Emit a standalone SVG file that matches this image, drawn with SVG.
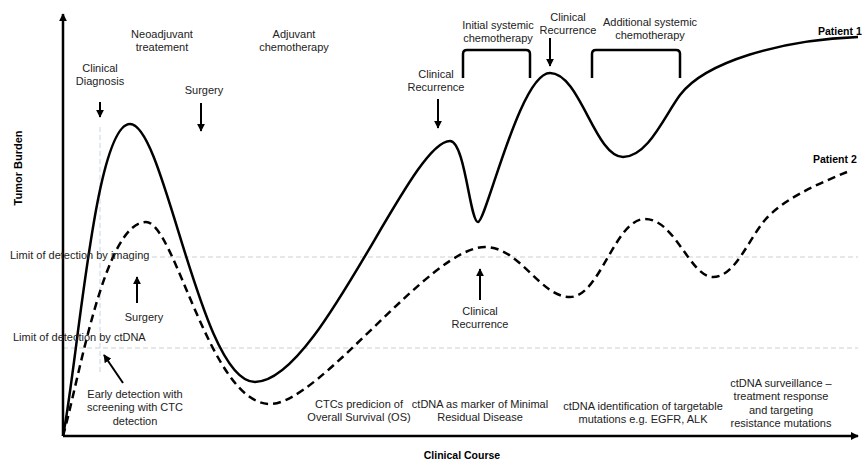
<svg xmlns="http://www.w3.org/2000/svg" width="863" height="462" viewBox="0 0 863 462">
<defs>
<style>
text{font-family:"Liberation Sans",Arial,sans-serif;font-size:11px;fill:#222}
.c{text-anchor:middle}
.b{font-weight:bold;fill:#000}
.axis{stroke:#000;stroke-width:2.5;fill:none}
.arr{stroke:#000;stroke-width:2;fill:none}
.lim{stroke:#cfcfcf;stroke-width:1;stroke-dasharray:5 3;fill:none}
.vl{stroke:#c8d4e8;stroke-width:1;stroke-dasharray:5 3;fill:none}
.p1{stroke:#000;stroke-width:2.5;fill:none}
.p2{stroke:#000;stroke-width:2.5;fill:none;stroke-dasharray:8 5}
.br{stroke:#000;stroke-width:2.5;fill:none}
</style>
<marker id="ah" viewBox="0 0 10 10" refX="9" refY="5" markerWidth="4" markerHeight="4" orient="auto" markerUnits="strokeWidth">
<path d="M0,0 L10,5 L0,10 z" fill="#000"/>
</marker>
<marker id="axh" viewBox="0 0 10 10" refX="9" refY="5" markerWidth="3.2" markerHeight="3.2" orient="auto" markerUnits="strokeWidth">
<path d="M0,0 L10,5 L0,10 z" fill="#000"/>
</marker>
</defs>
<rect width="863" height="462" fill="#fff"/>

<g id="limits">
<line class="lim" x1="152" y1="257" x2="858" y2="257"/>
<line class="lim" x1="63" y1="348" x2="858" y2="348"/>
<line class="vl" x1="100" y1="127" x2="100" y2="372"/>
</g>

<g id="axes">
<line class="axis" x1="63" y1="436" x2="63" y2="14" marker-end="url(#axh)"/>
<line class="axis" x1="63" y1="436" x2="858" y2="436" marker-end="url(#axh)"/>
</g>

<g id="patient1-curve">
<path class="p1" d="M63,436 C78,360 95,124 130,124 C165,124 200,382 255,382 C320,382 410,141 450,141 C465,141 470,222 478,222 C486,222 520,73 550,73 C580,73 595,157 623,157 C648,157 665,115 680,95 C705,62 780,40 858,37"/>
</g>
<g id="patient2-curve">
<path class="p2" d="M63,436 C80,375 105,222 146,222 C175,222 210,404 270,404 C320,404 430,247 485,247 C520,247 540,297 570,297 C600,297 615,219 645,219 C675,219 690,277 713,277 C735,277 748,240 765,220 C782,200 815,185 847,172"/>
</g>

<g id="connectors">
<line class="arr" x1="100" y1="102" x2="100" y2="117" marker-end="url(#ah)"/>
<line class="arr" x1="201" y1="103" x2="201" y2="131" marker-end="url(#ah)"/>
<line class="arr" x1="438" y1="99" x2="438" y2="128" marker-end="url(#ah)"/>
<line class="arr" x1="550" y1="38" x2="550" y2="66" marker-end="url(#ah)"/>
<line class="arr" x1="137" y1="303" x2="137" y2="277" marker-end="url(#ah)"/>
<line class="arr" x1="480" y1="300" x2="480" y2="269" marker-end="url(#ah)"/>
<line class="arr" x1="123" y1="383" x2="104" y2="355" marker-end="url(#ah)"/>
</g>

<g id="bracket-initial">
<path class="br" d="M463,78 V54 Q463,50 467,50 H526 Q530,50 530,54 V78"/>
</g>
<g id="bracket-additional">
<path class="br" d="M592,78 V54 Q592,50 596,50 H676 Q680,50 680,54 V78"/>
</g>

<g id="label-diagnosis"><text class="c" x="100" y="72">Clinical</text><text class="c" x="100" y="85">Diagnosis</text></g>
<g id="label-neoadjuvant"><text class="c" x="162" y="38">Neoadjuvant</text><text class="c" x="162" y="51">treatement</text></g>
<g id="label-surgery-top"><text class="c" x="204" y="94">Surgery</text></g>
<g id="label-adjuvant"><text class="c" x="294" y="38">Adjuvant</text><text class="c" x="294" y="51">chemotherapy</text></g>
<g id="label-recurrence-1"><text class="c" x="436" y="78">Clinical</text><text class="c" x="436" y="91">Recurrence</text></g>
<g id="label-initial"><text class="c" x="498" y="29">Initial systemic</text><text class="c" x="498" y="42">chemotherapy</text></g>
<g id="label-recurrence-2"><text class="c" x="568" y="21">Clinical</text><text class="c" x="568" y="34">Recurrence</text></g>
<g id="label-additional"><text class="c" x="650" y="26">Additional systemic</text><text class="c" x="650" y="39">chemotherapy</text></g>
<g id="label-patient1"><text class="b" x="818" y="35" style="font-size:10.5px">Patient 1</text></g>
<g id="label-patient2"><text class="b" x="813" y="163" style="font-size:10.5px">Patient 2</text></g>
<g id="label-imaging"><text x="10" y="259">Limit of detection by imaging</text></g>
<g id="label-ctdna"><text x="13" y="341">Limit of detection by ctDNA</text></g>
<g id="label-surgery-low"><text class="c" x="144" y="321">Surgery</text></g>
<g id="label-recurrence-3"><text class="c" x="480" y="315">Clinical</text><text class="c" x="480" y="328">Recurrence</text></g>
<g id="label-early"><text class="c" x="135" y="398">Early detection with</text><text class="c" x="135" y="411">screening with CTC</text><text class="c" x="135" y="425">detection</text></g>
<g id="label-ctc"><text class="c" x="359" y="408">CTCs predicion of</text><text class="c" x="359" y="421">Overall Survival (OS)</text></g>
<g id="label-mrd"><text class="c" x="480" y="408">ctDNA as marker of Minimal</text><text class="c" x="480" y="421">Residual Disease</text></g>
<g id="label-mutations"><text class="c" x="643" y="410">ctDNA identification of targetable</text><text class="c" x="643" y="423">mutations e.g. EGFR, ALK</text></g>
<g id="label-surveillance"><text class="c" x="781" y="387">ctDNA surveillance –</text><text class="c" x="781" y="400">treatment response</text><text class="c" x="781" y="414">and targeting</text><text class="c" x="781" y="427">resistance mutations</text></g>
<g id="label-xaxis"><text class="c b" x="462" y="459" style="font-size:10.5px">Clinical Course</text></g>
<g id="label-yaxis"><text class="c b" x="0" y="0" transform="translate(22,168) rotate(-90)" style="font-size:11px">Tumor Burden</text></g>
</svg>
